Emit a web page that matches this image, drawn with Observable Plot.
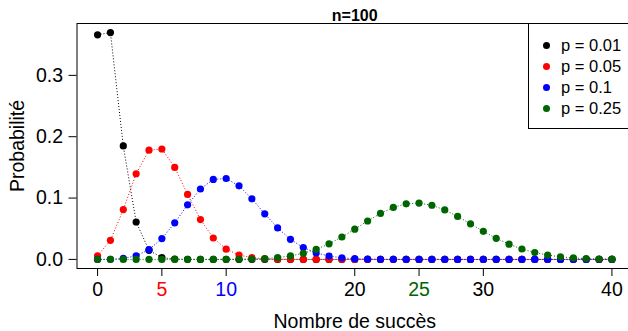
<!DOCTYPE html>
<html>
<head>
<meta charset="utf-8">
<script src="https://cdn.jsdelivr.net/npm/d3@7"></script>
<script src="https://cdn.jsdelivr.net/npm/@observablehq/plot@0.6"></script>
<style>
  html, body { margin: 0; padding: 0; background: #fff; overflow: hidden; }
  #chart { position: relative; width: 628px; height: 331px; overflow: hidden;
           font-family: "Liberation Sans", Arial, Helvetica, sans-serif; }
  #chart svg { display: block; }
  .legend { position: absolute; left: 528px; top: 23px; width: 130px; height: 106px;
            border: 1px solid #000; background: #fff; box-sizing: border-box; }
  .legend .row { position: absolute; left: 0; height: 20px; line-height: 20px; font-size: 16.5px; }
  .legend .sw { position: absolute; left: 13.5px; top: 6.5px; width: 7px; height: 7px; border-radius: 50%; }
  .legend .lab { position: absolute; left: 32px; top: 0; white-space: nowrap; }
</style>
</head>
<body>
<div id="chart"></div>
<script>
// Number of successes k for n = 100 trials
const successes = [
  0, 1, 2, 3, 4, 5, 6, 7, 8, 9,
  10, 11, 12, 13, 14, 15, 16, 17, 18, 19,
  20, 21, 22, 23, 24, 25, 26, 27, 28, 29,
  30, 31, 32, 33, 34, 35, 36, 37, 38, 39,
  40
];

// P(X = k) for each success probability p
const probP001 = [
  0.3660, 0.3697, 0.1849, 0.0610, 0.0149, 0.0029, 0.0005, 0.0001, 0, 0,
  0, 0, 0, 0, 0, 0, 0, 0, 0, 0,
  0, 0, 0, 0, 0, 0, 0, 0, 0, 0,
  0, 0, 0, 0, 0, 0, 0, 0, 0, 0,
  0
];
const probP005 = [
  0.0059, 0.0312, 0.0812, 0.1396, 0.1781, 0.1800, 0.1500, 0.1060, 0.0649, 0.0349,
  0.0167, 0.0072, 0.0028, 0.0010, 0.0003, 0.0001, 0, 0, 0, 0,
  0, 0, 0, 0, 0, 0, 0, 0, 0, 0,
  0, 0, 0, 0, 0, 0, 0, 0, 0, 0,
  0
];
const probP010 = [
  0.0000, 0.0003, 0.0016, 0.0059, 0.0159, 0.0339, 0.0596, 0.0889, 0.1148, 0.1304,
  0.1319, 0.1199, 0.0988, 0.0743, 0.0513, 0.0327, 0.0193, 0.0106, 0.0054, 0.0026,
  0.0012, 0.0005, 0.0002, 0.0001, 0, 0, 0, 0, 0, 0,
  0, 0, 0, 0, 0, 0, 0, 0, 0, 0,
  0
];
const probP025 = [
  0, 0, 0, 0, 0, 0, 0, 0, 0, 0,
  0.0001, 0.0003, 0.0006, 0.0014, 0.0030, 0.0057, 0.0100, 0.0165, 0.0254, 0.0365,
  0.0493, 0.0626, 0.0749, 0.0847, 0.0906, 0.0918, 0.0883, 0.0806, 0.0701, 0.0580,
  0.0458, 0.0344, 0.0248, 0.0170, 0.0112, 0.0070, 0.0042, 0.0024, 0.0013, 0.0007,
  0.0004
];

const seriesLabels = ["p = 0.01", "p = 0.05", "p = 0.1", "p = 0.25"];
const seriesColors = ["#000000", "#ff0000", "#0000ff", "#006400"];
const seriesValues = [probP001, probP005, probP010, probP025];

// Axis ticks; a few labels are tinted like the series whose mean they mark
const xTicks = [0, 5, 10, 20, 25, 30, 40];
const xTickColors = ["#000000", "#ff0000", "#0000ff", "#000000", "#006400", "#000000", "#000000"];
const yTicks = [0, 0.1, 0.2, 0.3];

const titleText = "n=100";
const xTitle = "Nombre de succès";
const yTitle = "Probabilité";

const fontFamily = '"Liberation Sans", Arial, Helvetica, sans-serif';

const marks = [];

// one dotted line plus its points for every series, drawn in order
seriesValues.forEach((vals, i) => {
  const rows = successes.map((k, j) => ({k, prob: vals[j]}));
  marks.push(Plot.line(rows, {x: "k", y: "prob", stroke: seriesColors[i],
    strokeWidth: 1, strokeDasharray: "1,2", strokeLinecap: "butt"}));
  marks.push(Plot.dot(rows, {x: "k", y: "prob", fill: seriesColors[i], r: 3.6, stroke: "none"}));
});

// x axis: group ticks by label colour
const tickGroups = d3.groups(xTicks.map((t, i) => ({t, c: xTickColors[i]})), d => d.c);
tickGroups.forEach(([c, arr]) => {
  marks.push(Plot.axisX(arr.map(d => d.t), {
    tickSize: 8, tickPadding: 6, fill: c, stroke: "#000", label: null, fontSize: 19.5,
    tickFormat: d3.format("d")
  }));
});

marks.push(Plot.axisY(yTicks, {
  tickSize: 8, tickPadding: 6, label: null, fontSize: 19.5, tickFormat: d3.format(".1f")
}));

marks.push(Plot.frame({stroke: "#000", strokeWidth: 1}));

marks.push(Plot.text([titleText], {text: d => d, frameAnchor: "top", dy: -8,
  lineAnchor: "middle", textAnchor: "middle", fontWeight: "bold", fontSize: 16}));
marks.push(Plot.text([xTitle], {text: d => d, frameAnchor: "bottom", dy: 53,
  lineAnchor: "middle", textAnchor: "middle", fontSize: 19.5}));
marks.push(Plot.text([yTitle], {text: d => d, frameAnchor: "left", dx: -59, rotate: -90,
  lineAnchor: "middle", textAnchor: "middle", fontSize: 19.5}));

const chart = Plot.plot({
  width: 628,
  height: 331,
  marginLeft: 76.5,
  marginRight: -4,
  marginTop: 23,
  marginBottom: 63,
  x: {domain: [-1.6, 41.6]},
  y: {domain: [-0.0148, 0.3845]},
  style: {fontFamily, fontSize: "19.5px", color: "#000", background: "#fff", overflow: "visible"},
  marks
});

const root = document.getElementById("chart");
root.appendChild(chart);

// legend box in the upper right corner of the panel
const legend = document.createElement("div");
legend.className = "legend";
seriesLabels.forEach((lab, i) => {
  const row = document.createElement("div");
  row.className = "row";
  row.style.top = (11 + i * 21) + "px";
  const sw = document.createElement("span");
  sw.className = "sw";
  sw.style.background = seriesColors[i];
  const tx = document.createElement("span");
  tx.className = "lab";
  tx.textContent = lab;
  row.appendChild(sw);
  row.appendChild(tx);
  legend.appendChild(row);
});
root.appendChild(legend);
</script>
</body>
</html>
